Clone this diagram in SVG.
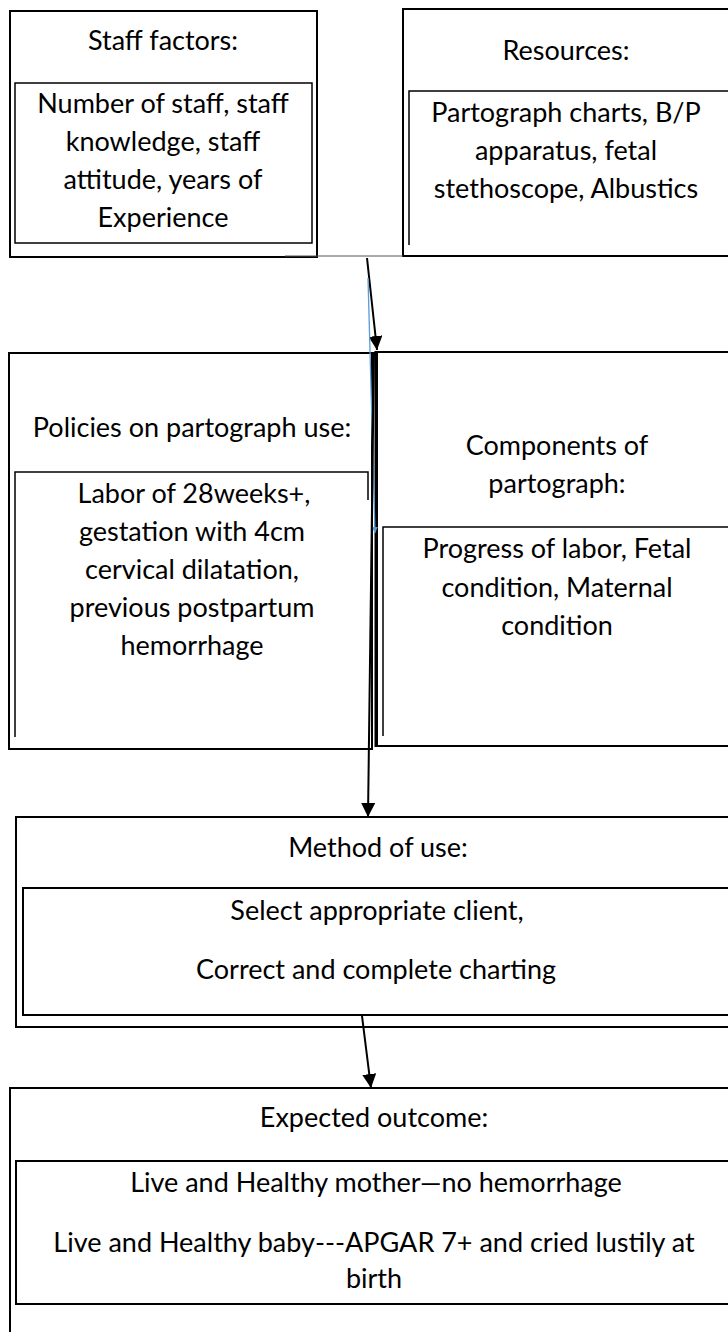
<svg xmlns="http://www.w3.org/2000/svg" width="728" height="1332" viewBox="0 0 728 1332">
<style>
  .t { font-family: Lato, "Liberation Sans", sans-serif; font-size: 27px; fill: #000; text-anchor: middle; }
  .box { fill: none; stroke: #000; stroke-width: 2; }
  .inner { fill: none; stroke: #000; stroke-width: 1.5; }
  .conn { fill: none; stroke: #000; stroke-width: 2; }
  .blue { fill: none; stroke: #5B9BD5; stroke-width: 1.3; }
</style>
<defs>
  <marker id="arrow" viewBox="0 0 10 10" refX="10" refY="5" markerWidth="14" markerHeight="14" markerUnits="userSpaceOnUse" orient="auto">
    <path d="M0,0 L10,5 L0,10 z" fill="#000"/>
  </marker>
  <marker id="bluetick" viewBox="0 0 10 10" refX="10" refY="5" markerWidth="7" markerHeight="6" markerUnits="userSpaceOnUse" orient="auto">
    <path d="M0,0 L10,5 L0,10 z" fill="#5B9BD5"/>
  </marker>
</defs>
<rect width="728" height="1332" fill="#fff"/>

<g id="staff-factors">
  <rect class="box" x="10" y="11" width="307" height="246"/>
  <rect class="inner" x="15" y="83" width="297" height="160"/>
  <text class="t" x="163" y="50">Staff factors:</text>
  <text class="t" x="163" y="113">Number of staff, staff</text>
  <text class="t" x="163" y="151">knowledge, staff</text>
  <text class="t" x="163" y="189">attitude, years of</text>
  <text class="t" x="163" y="227">Experience</text>
</g>

<g id="resources">
  <rect class="box" x="403" y="9" width="330" height="247"/>
  <path class="inner" d="M409,245 V91 H735"/>
  <text class="t" x="566" y="60">Resources:</text>
  <text class="t" x="566" y="122">Partograph charts, B/P</text>
  <text class="t" x="566" y="160">apparatus, fetal</text>
  <text class="t" x="566" y="198">stethoscope, Albustics</text>
</g>

<g id="policies">
  <rect class="box" x="9" y="353" width="363" height="396"/>
  <path class="inner" d="M15,737 V472 H368 V500"/>
  <text class="t" x="192" y="437">Policies on partograph use:</text>
  <text class="t" x="194" y="503">Labor of 28weeks+,</text>
  <text class="t" x="192" y="541">gestation with 4cm</text>
  <text class="t" x="192" y="579">cervical dilatation,</text>
  <text class="t" x="192" y="617">previous postpartum</text>
  <text class="t" x="192" y="655">hemorrhage</text>
</g>

<g id="components">
  <rect class="box" x="377" y="352" width="365" height="394"/>
  <line x1="376" y1="351" x2="376" y2="747" stroke="#000" stroke-width="3"/>
  <path class="inner" d="M383,736 V527 H740"/>
  <text class="t" x="557" y="455">Components of</text>
  <text class="t" x="557" y="493">partograph:</text>
  <text class="t" x="557" y="558">Progress of labor, Fetal</text>
  <text class="t" x="557" y="597">condition, Maternal</text>
  <text class="t" x="557" y="635">condition</text>
</g>

<g id="method-of-use">
  <rect class="box" x="16" y="817" width="730" height="210"/>
  <rect class="box" x="23" y="888" width="720" height="127"/>
  <text class="t" x="378" y="857">Method of use:</text>
  <text class="t" x="377" y="920">Select appropriate client,</text>
  <text class="t" x="376" y="979">Correct and complete charting</text>
</g>

<g id="expected-outcome">
  <path class="box" d="M10,1340 V1088 H740"/>
  <rect class="box" x="16" y="1161" width="730" height="143"/>
  <text class="t" x="374" y="1127">Expected outcome:</text>
  <text class="t" x="376" y="1192">Live and Healthy mother—no hemorrhage</text>
  <text class="t" x="374" y="1252">Live and Healthy baby---APGAR 7+ and cried lustily at</text>
  <text class="t" x="374" y="1288">birth</text>
</g>

<g id="connectors">
  <line x1="285" y1="256" x2="403" y2="256" stroke="#555" stroke-width="1"/>
  <line class="conn" x1="367" y1="258" x2="377" y2="350" marker-end="url(#arrow)"/>
  <line class="blue" x1="368" y1="278" x2="375" y2="533" marker-end="url(#bluetick)"/>
  <line class="conn" x1="374" y1="352" x2="368" y2="817" marker-end="url(#arrow)"/>
  <line class="conn" x1="362" y1="1016" x2="371" y2="1088" marker-end="url(#arrow)"/>
</g>
</svg>
